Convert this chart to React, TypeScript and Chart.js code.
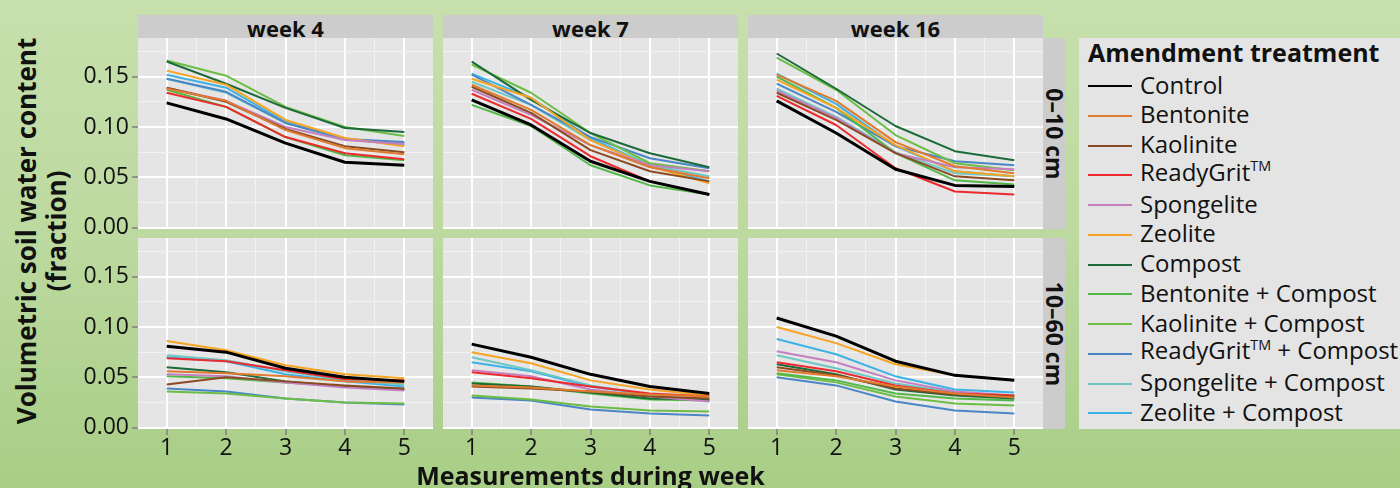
import React, { useEffect, useRef } from "react";
import { Chart, registerables } from "chart.js";

Chart.register(...registerables);

const FONT = "'Open Sans', 'Noto Sans', 'DejaVu Sans', sans-serif";

const MEASUREMENTS = [1, 2, 3, 4, 5];
const X_MINOR = [1.5, 2.5, 3.5, 4.5];
const Y_MAJOR = [0, 0.05, 0.1, 0.15];
const Y_MINOR = [0.025, 0.075, 0.125, 0.175];
const WEEKS = ["week 4", "week 7", "week 16"];
const DEPTHS = ["0–10 cm", "10–60 cm"];
const TREATMENTS = [
  "Control",
  "Bentonite",
  "Kaolinite",
  "ReadyGrit™",
  "Spongelite",
  "Zeolite",
  "Compost",
  "Bentonite + Compost",
  "Kaolinite + Compost",
  "ReadyGrit™ + Compost",
  "Spongelite + Compost",
  "Zeolite + Compost",
];
const COLORS = [
  "#000000",
  "#e07a2e",
  "#8a4b22",
  "#ec2a2e",
  "#c57fc0",
  "#f6a422",
  "#1c6a3a",
  "#52b848",
  "#6cbd45",
  "#4a86c6",
  "#6dc7c4",
  "#3db2e6",
];

// Week 4, 0–10 cm
const W4_0_10 = [
  [0.124, 0.108, 0.084, 0.065, 0.062],
  [0.138, 0.126, 0.097, 0.079, 0.073],
  [0.139, 0.125, 0.098, 0.081, 0.075],
  [0.134, 0.12, 0.09, 0.074, 0.068],
  [0.139, 0.126, 0.1, 0.087, 0.083],
  [0.156, 0.142, 0.107, 0.089, 0.081],
  [0.165, 0.143, 0.119, 0.099, 0.095],
  [0.137, 0.12, 0.09, 0.072, 0.067],
  [0.166, 0.151, 0.12, 0.1, 0.091],
  [0.148, 0.135, 0.104, 0.088, 0.085],
  [0.148, 0.134, 0.104, 0.088, 0.084],
  [0.152, 0.139, 0.105, 0.088, 0.082],
];
// Week 7, 0–10 cm
const W7_0_10 = [
  [0.127, 0.102, 0.066, 0.046, 0.033],
  [0.142, 0.117, 0.082, 0.06, 0.049],
  [0.14, 0.114, 0.077, 0.056, 0.046],
  [0.133, 0.108, 0.071, 0.046, 0.033],
  [0.137, 0.112, 0.082, 0.062, 0.056],
  [0.148, 0.129, 0.087, 0.061, 0.044],
  [0.165, 0.127, 0.094, 0.074, 0.06],
  [0.122, 0.101, 0.062, 0.042, 0.033],
  [0.162, 0.134, 0.094, 0.064, 0.056],
  [0.152, 0.122, 0.09, 0.069, 0.059],
  [0.145, 0.122, 0.087, 0.062, 0.051],
  [0.153, 0.129, 0.089, 0.062, 0.046],
];
// Week 16, 0–10 cm
const W16_0_10 = [
  [0.126, 0.094, 0.058, 0.042, 0.041],
  [0.152, 0.126, 0.085, 0.061, 0.054],
  [0.134, 0.107, 0.074, 0.051, 0.047],
  [0.131, 0.102, 0.059, 0.036, 0.033],
  [0.136, 0.109, 0.074, 0.06, 0.058],
  [0.147, 0.119, 0.082, 0.056, 0.051],
  [0.173, 0.138, 0.101, 0.076, 0.067],
  [0.15, 0.119, 0.074, 0.047, 0.043],
  [0.169, 0.137, 0.092, 0.064, 0.057],
  [0.143, 0.115, 0.081, 0.066, 0.062],
  [0.138, 0.11, 0.075, 0.054, 0.051],
  [0.153, 0.123, 0.081, 0.056, 0.051],
];
// Week 4, 10–60 cm
const W4_10_60 = [
  [0.081, 0.075, 0.059, 0.05, 0.046],
  [0.056, 0.054, 0.051, 0.046, 0.045],
  [0.043, 0.05, 0.046, 0.042, 0.039],
  [0.069, 0.066, 0.057, 0.048, 0.047],
  [0.053, 0.051, 0.045, 0.04, 0.037],
  [0.086, 0.077, 0.062, 0.053, 0.049],
  [0.06, 0.055, 0.046, 0.041, 0.038],
  [0.051, 0.049, 0.045, 0.041, 0.038],
  [0.036, 0.034, 0.029, 0.025, 0.024],
  [0.039, 0.036, 0.029, 0.025, 0.023],
  [0.072, 0.067, 0.056, 0.047, 0.043],
  [0.07, 0.066, 0.053, 0.046, 0.041],
];
// Week 7, 10–60 cm
const W7_10_60 = [
  [0.083, 0.07, 0.053, 0.041, 0.034],
  [0.042, 0.04, 0.036, 0.033, 0.031],
  [0.041, 0.039, 0.036, 0.031, 0.029],
  [0.055, 0.049, 0.041, 0.034, 0.031],
  [0.057, 0.051, 0.038, 0.031, 0.026],
  [0.075, 0.064, 0.047, 0.038, 0.032],
  [0.044, 0.041, 0.035, 0.029, 0.028],
  [0.045, 0.041, 0.034, 0.028, 0.027],
  [0.032, 0.028, 0.021, 0.017, 0.016],
  [0.03, 0.027, 0.018, 0.014, 0.012],
  [0.07, 0.057, 0.042, 0.033, 0.028],
  [0.065, 0.056, 0.041, 0.033, 0.027],
];
// Week 16, 10–60 cm
const W16_10_60 = [
  [0.109, 0.091, 0.066, 0.052, 0.047],
  [0.057, 0.051, 0.041, 0.034, 0.03],
  [0.06, 0.052, 0.039, 0.033, 0.031],
  [0.065, 0.056, 0.042, 0.034, 0.032],
  [0.076, 0.065, 0.047, 0.036, 0.032],
  [0.1, 0.084, 0.063, 0.052, 0.047],
  [0.063, 0.053, 0.038, 0.032, 0.029],
  [0.054, 0.047, 0.034, 0.029, 0.027],
  [0.053, 0.045, 0.031, 0.024, 0.022],
  [0.05, 0.042, 0.026, 0.017, 0.014],
  [0.072, 0.059, 0.044, 0.035, 0.029],
  [0.088, 0.073, 0.051, 0.038, 0.035],
];

const PANEL_DATA = [
  [W4_0_10, W7_0_10, W16_0_10],
  [W4_10_60, W7_10_60, W16_10_60],
];

// layout (pixels)
const COL_X = [138, 443, 748];
const ROW_Y = [38, 238];
const PANEL_W = 295;
const PANEL_H = 191;
const Y_AXIS_W = 60;
const X_AXIS_H = 30;
const EXTRA_BOTTOM = 16;
const X_MIN = 0.517;
const X_MAX = 5.483;
const Y_MIN = -0.0013;
const Y_MAX = 0.1884;

const isMajorX = (v: number) => Math.abs(v - Math.round(v)) < 1e-6;
const isMajorY = (v: number) => Math.abs(v * 20 - Math.round(v * 20)) < 1e-6;

const panelBg = {
  id: "panelBg",
  beforeDraw(chart: any) {
    const { ctx, chartArea: a } = chart;
    ctx.save();
    ctx.fillStyle = "#e5e5e5";
    ctx.fillRect(a.left, a.top, a.right - a.left, a.bottom - a.top);
    ctx.restore();
  },
};

function Panel({ row, col }: { row: number; col: number }) {
  const ref = useRef<HTMLCanvasElement>(null);
  const showY = col === 0;
  const showX = row === 1;
  const extraBottom = showY && !showX ? EXTRA_BOTTOM : 0;
  const w = PANEL_W + (showY ? Y_AXIS_W : 0);
  const h = PANEL_H + (showX ? X_AXIS_H : 0) + extraBottom;
  const left = COL_X[col] - (showY ? Y_AXIS_W : 0);
  const top = ROW_Y[row];

  useEffect(() => {
    const data = PANEL_DATA[row][col];
    const tickFont = { family: FONT, size: 23 };
    const chart = new Chart(ref.current as HTMLCanvasElement, {
      type: "line",
      data: {
        datasets: TREATMENTS.map((name, i) => ({
          label: name,
          data: MEASUREMENTS.map((m, j) => ({ x: m, y: data[i][j] })),
          borderColor: COLORS[i],
          backgroundColor: COLORS[i],
          borderWidth: i === 0 ? 3 : 2,
          pointRadius: 0,
          pointHoverRadius: 0,
          fill: false,
          tension: 0,
          borderJoinStyle: "round",
          borderCapStyle: "butt",
        })),
      },
      options: {
        animation: false,
        responsive: false,
        maintainAspectRatio: false,
        events: [],
        layout: { padding: { top: 0, left: 0, right: 0, bottom: extraBottom } },
        plugins: { legend: { display: false }, tooltip: { enabled: false } },
        scales: {
          x: {
            type: "linear",
            min: X_MIN,
            max: X_MAX,
            afterBuildTicks: (s: any) => {
              s.ticks = [...MEASUREMENTS, ...X_MINOR]
                .sort((a, b) => a - b)
                .map((v) => ({ value: v }));
            },
            ticks: {
              display: showX,
              autoSkip: false,
              maxRotation: 0,
              padding: 0,
              color: "#111111",
              font: tickFont,
              callback: (v: any) => (isMajorX(Number(v)) ? String(v) : ""),
            },
            grid: {
              color: (c: any) => (c.tick && isMajorX(c.tick.value) ? "#ffffff" : "#f2f2f2"),
              lineWidth: (c: any) => (c.tick && isMajorX(c.tick.value) ? 2 : 1),
              drawTicks: showX,
              tickLength: 6,
              tickWidth: 1.5,
              tickColor: (c: any) =>
                c.tick && isMajorX(c.tick.value) ? "#7f7f7f" : "rgba(0,0,0,0)",
            },
            border: { display: false },
            afterFit: (s: any) => {
              s.height = showX ? X_AXIS_H : 0;
              s.paddingLeft = 0;
              s.paddingRight = 0;
              s.paddingTop = 0;
              s.paddingBottom = 0;
            },
          },
          y: {
            type: "linear",
            min: Y_MIN,
            max: Y_MAX,
            afterBuildTicks: (s: any) => {
              s.ticks = [...Y_MAJOR, ...Y_MINOR]
                .sort((a, b) => a - b)
                .map((v) => ({ value: v }));
            },
            ticks: {
              display: showY,
              autoSkip: false,
              padding: 3,
              color: "#111111",
              font: tickFont,
              callback: (v: any) => (isMajorY(Number(v)) ? Number(v).toFixed(2) : ""),
            },
            grid: {
              color: (c: any) => (c.tick && isMajorY(c.tick.value) ? "#ffffff" : "#f2f2f2"),
              lineWidth: (c: any) => (c.tick && isMajorY(c.tick.value) ? 2 : 1),
              drawTicks: showY,
              tickLength: 6,
              tickWidth: 1.5,
              tickColor: (c: any) =>
                c.tick && isMajorY(c.tick.value) ? "#7f7f7f" : "rgba(0,0,0,0)",
            },
            border: { display: false },
            afterFit: (s: any) => {
              s.width = showY ? Y_AXIS_W : 0;
              s.paddingLeft = 0;
              s.paddingRight = 0;
              s.paddingTop = 0;
              s.paddingBottom = 0;
            },
          },
        },
      } as any,
      plugins: [panelBg],
    });
    return () => chart.destroy();
  }, []);

  return (
    <canvas
      ref={ref}
      width={w}
      height={h}
      style={{ position: "absolute", left, top, width: w, height: h, display: "block" }}
    />
  );
}

function renderLabel(name: string) {
  const parts = name.split("™");
  if (parts.length === 1) return name;
  return (
    <>
      {parts[0]}
      <span style={{ fontSize: "0.6em", position: "relative", top: "-0.65em" }}>TM</span>
      {parts[1]}
    </>
  );
}

export default function App() {
  const textColor = "#111111";
  return (
    <div
      style={{
        position: "fixed",
        left: 0,
        top: 0,
        width: 1400,
        height: 488,
        overflow: "hidden",
        background: "linear-gradient(to bottom, #c7e0ad 0%, #bcd99f 50%, #a8ce86 100%)",
        fontFamily: FONT,
        color: textColor,
      }}
    >
      {/* top strips */}
      {WEEKS.map((wk, c) => (
        <div
          key={wk}
          style={{
            position: "absolute",
            left: COL_X[c],
            top: 15,
            width: PANEL_W,
            height: 23,
            background: "#cccccc",
          }}
        >
          <div
            style={{
              position: "absolute",
              left: 0,
              top: 1.5,
              width: "100%",
              textAlign: "center",
              fontWeight: 700,
              fontSize: 22,
              lineHeight: "23px",
              whiteSpace: "nowrap",
            }}
          >
            {wk}
          </div>
        </div>
      ))}
      {/* right strips */}
      {DEPTHS.map((d, r) => (
        <div
          key={d}
          style={{
            position: "absolute",
            left: COL_X[2] + PANEL_W,
            top: ROW_Y[r],
            width: 22,
            height: PANEL_H,
            background: "#cccccc",
          }}
        >
          <div
            style={{
              position: "absolute",
              left: 11 - PANEL_H / 2,
              top: PANEL_H / 2 - 11,
              width: PANEL_H,
              height: 22,
              lineHeight: "22px",
              textAlign: "center",
              fontWeight: 700,
              fontSize: 23,
              whiteSpace: "nowrap",
              transform: "rotate(90deg)",
              transformOrigin: "50% 50%",
            }}
          >
            {d}
          </div>
        </div>
      ))}
      {/* panels */}
      {[0, 1].map((r) =>
        [0, 1, 2].map((c) => <Panel key={`${r}-${c}`} row={r} col={c} />)
      )}
      {/* y title */}
      <div
        style={{
          position: "absolute",
          left: 41 - 230,
          top: 231 - 30,
          width: 460,
          height: 60,
          lineHeight: "30px",
          fontSize: 26,
          fontWeight: 700,
          textAlign: "center",
          whiteSpace: "nowrap",
          transform: "rotate(-90deg)",
          transformOrigin: "50% 50%",
        }}
      >
        Volumetric soil water content
        <br />
        (fraction)
      </div>
      {/* x title */}
      <div
        style={{
          position: "absolute",
          left: COL_X[0],
          top: 463,
          width: COL_X[2] + PANEL_W - COL_X[0],
          textAlign: "center",
          fontSize: 25,
          lineHeight: "25px",
          fontWeight: 700,
          whiteSpace: "nowrap",
        }}
      >
        Measurements during week
      </div>
      {/* legend */}
      <div
        style={{
          position: "absolute",
          left: 1079,
          top: 38,
          width: 330,
          height: 391,
          background: "#e4e4e4",
        }}
      >
        <div
          style={{
            position: "absolute",
            left: 9,
            top: 2,
            fontSize: 25,
            lineHeight: "25px",
            fontWeight: 700,
            whiteSpace: "nowrap",
          }}
        >
          Amendment treatment
        </div>
        {TREATMENTS.map((t, i) => (
          <div
            key={t}
            style={{
              position: "absolute",
              left: 9,
              top: 48 + 29.75 * i - 15,
              height: 30,
              display: "flex",
              alignItems: "center",
              whiteSpace: "nowrap",
            }}
          >
            <div style={{ width: 44, height: 2, background: COLORS[i] }} />
            <span
              style={{
                marginLeft: 8,
                fontSize: 24,
                lineHeight: "30px",
                position: "relative",
                top: -1.5,
              }}
            >
              {renderLabel(t)}
            </span>
          </div>
        ))}
      </div>
    </div>
  );
}
